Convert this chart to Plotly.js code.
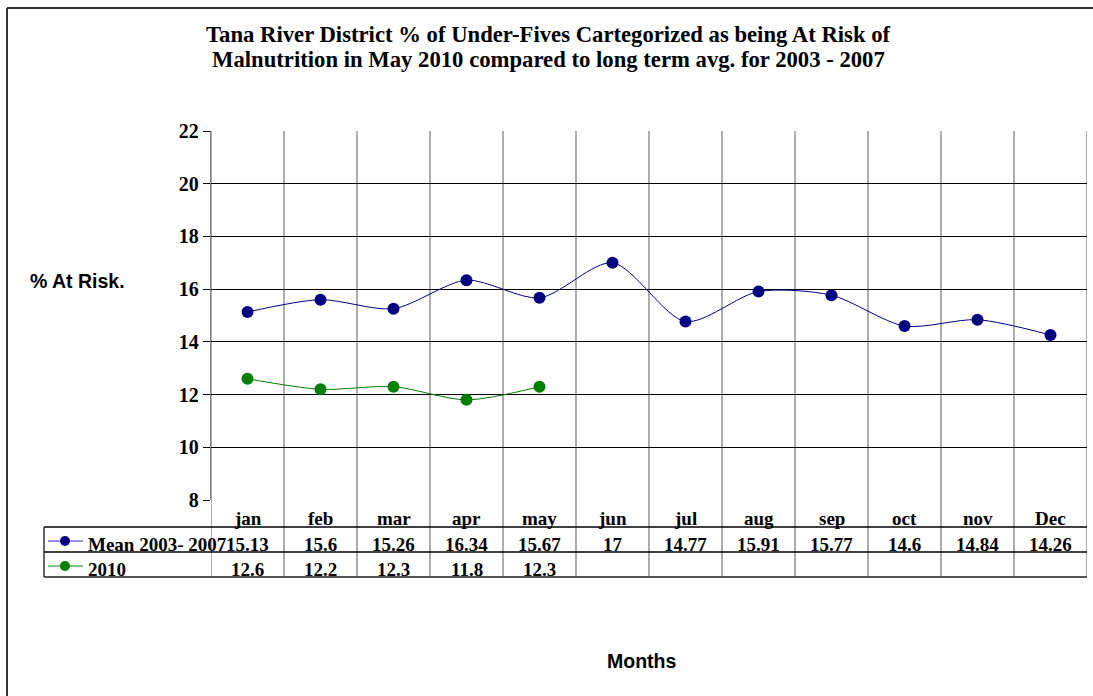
<!DOCTYPE html>
<html>
<head>
<meta charset="utf-8">
<script src="https://cdn.plot.ly/plotly-3.0.1.min.js"></script>
<style>html,body{margin:0;padding:0;background:#fff;}#chart{width:1093px;height:696px;}</style>
</head>
<body>
<div id="chart"></div>
<script>
const months = ['jan','feb','mar','apr','may','jun','jul','aug','sep','oct','nov','Dec'];
const mean0307 = [15.13, 15.6, 15.26, 16.34, 15.67, 17, 14.77, 15.91, 15.77, 14.6, 14.84, 14.26];
const y2010 = [12.6, 12.2, 12.3, 11.8, 12.3];
const seriesNames = ['Mean 2003- 2007', '2010'];
const seriesColors = ['#000080', '#008000'];
const yTicks = [8, 10, 12, 14, 16, 18, 20, 22];
const titleLines = ['Tana River District % of Under-Fives Cartegorized as being At Risk of',
                    'Malnutrition in May 2010 compared to long term avg. for 2003 - 2007'];

const W = 1093, H = 696;
const L = 211, R = 6, T = 131, B = 196;
const pw = W - L - R, ph = H - T - B;
const px2x = p => (p - L) / pw;
const py2y = p => (H - B - p) / ph;

const idx = months.map((m, i) => i);
const serif = 'Liberation Serif, Times New Roman, serif';
const sans = 'Liberation Sans, Arial, sans-serif';
const tfont = {family: serif, size: 19, color: '#000'};

const traces = [
  {x: idx, y: mean0307, name: seriesNames[0], type: 'scatter', mode: 'lines+markers',
   line: {color: seriesColors[0], width: 1, shape: 'spline', smoothing: 0.8},
   marker: {color: seriesColors[0], size: 12}},
  {x: idx.slice(0, y2010.length), y: y2010, name: seriesNames[1], type: 'scatter', mode: 'lines+markers',
   line: {color: seriesColors[1], width: 1, shape: 'spline', smoothing: 0.8},
   marker: {color: seriesColors[1], size: 12}}
];

const rowHeadY = py2y(518), row1Y = py2y(544), row2Y = py2y(569);
const line1 = py2y(527), line2 = py2y(552), line3 = py2y(577);
const tableLeft = px2x(44);

const annotations = [];
months.forEach((m, i) => {
  annotations.push({x: i, xref: 'x', y: rowHeadY, yref: 'paper', text: '<b>' + m + '</b>', showarrow: false,
    font: tfont, xanchor: 'center', yanchor: 'middle'});
  annotations.push({x: i, xref: 'x', y: row1Y, yref: 'paper', text: '<b>' + mean0307[i] + '</b>', showarrow: false,
    font: tfont, xanchor: 'center', yanchor: 'middle'});
});
y2010.forEach((v, i) => {
  annotations.push({x: i, xref: 'x', y: row2Y, yref: 'paper', text: '<b>' + v + '</b>', showarrow: false,
    font: tfont, xanchor: 'center', yanchor: 'middle'});
});
[row1Y, row2Y].forEach((yy, k) => {
  annotations.push({x: px2x(86), xref: 'paper', y: yy, yref: 'paper', text: '<b>' + seriesNames[k] + '</b>', showarrow: false,
    font: tfont, xanchor: 'left', yanchor: 'middle'});
});
titleLines.forEach((t, k) => {
  annotations.push({x: px2x(548), xref: 'paper', y: py2y(k === 0 ? 35 : 60), yref: 'paper', text: '<b>' + t + '</b>',
    showarrow: false, font: {family: serif, size: 22.7, color: '#000'}, xanchor: 'center', yanchor: 'middle'});
});
annotations.push({x: px2x(77), xref: 'paper', y: py2y(281), yref: 'paper', text: '<b>% At Risk.</b>', showarrow: false,
  font: {family: sans, size: 19.5, color: '#000'}, xanchor: 'center', yanchor: 'middle'});
annotations.push({x: px2x(641), xref: 'paper', y: py2y(661), yref: 'paper', text: '<b>Months</b>', showarrow: false,
  font: {family: sans, size: 19.5, color: '#000'}, xanchor: 'center', yanchor: 'middle'});

const shapes = [];
for (let i = 0; i <= months.length; i++) {
  shapes.push({type: 'line', xref: 'x', yref: 'paper', x0: i - 0.5, x1: i - 0.5, y0: line3, y1: 1,
    line: {color: '#808080', width: 1.3}, layer: 'below'});
}
shapes.push({type: 'line', xref: 'paper', yref: 'paper', x0: tableLeft, x1: 1, y0: line1, y1: line1, line: {color: '#000', width: 1.3}});
shapes.push({type: 'line', xref: 'paper', yref: 'paper', x0: tableLeft, x1: 1, y0: line2, y1: line2, line: {color: '#000', width: 1.3}});
shapes.push({type: 'line', xref: 'paper', yref: 'paper', x0: tableLeft, x1: 1, y0: line3, y1: line3, line: {color: '#555', width: 2}});
shapes.push({type: 'line', xref: 'paper', yref: 'paper', x0: tableLeft, x1: tableLeft, y0: line3, y1: line1, line: {color: '#333', width: 1.5}});
[row1Y, row2Y].forEach((yy, k) => {
  const lc = k === 0 ? '#7070c8' : '#60b060';
  const ly = py2y(k === 0 ? 541 : 566);
  shapes.push({type: 'line', xref: 'paper', yref: 'paper', x0: px2x(48), x1: px2x(83), y0: ly, y1: ly,
    line: {color: lc, width: 1.3}});
  shapes.push({type: 'circle', xref: 'paper', yref: 'paper', xsizemode: 'pixel', ysizemode: 'pixel',
    xanchor: px2x(65), yanchor: ly, x0: -5, x1: 5, y0: -5, y1: 5,
    fillcolor: seriesColors[k], line: {color: seriesColors[k], width: 0}});
});
shapes.push({type: 'line', xref: 'paper', yref: 'paper', x0: px2x(7), x1: px2x(7), y0: py2y(700), y1: py2y(8), line: {color: '#333', width: 2}});
shapes.push({type: 'line', xref: 'paper', yref: 'paper', x0: px2x(7), x1: px2x(1100), y0: py2y(8), y1: py2y(8), line: {color: '#333', width: 2}});

const layout = {
  width: W, height: H,
  margin: {l: L, r: R, t: T, b: B, pad: 0},
  paper_bgcolor: '#fff', plot_bgcolor: '#fff',
  showlegend: false,
  xaxis: {range: [-0.5, months.length - 0.5], showgrid: false, zeroline: false, showticklabels: false,
    ticks: '', showline: false, fixedrange: true},
  yaxis: {range: [8, 22], tickvals: yTicks, ticktext: yTicks.map(v => '<b>' + v + '</b>'), showgrid: true, gridcolor: '#000', gridwidth: 1.2,
    zeroline: false, showline: true, linecolor: '#808080', linewidth: 1.3, ticks: 'outside', ticklen: 7,
    tickcolor: '#000', tickfont: {family: serif, size: 20, color: '#000', weight: 'bold'}, fixedrange: true},
  annotations: annotations,
  shapes: shapes
};

Plotly.newPlot('chart', traces, layout, {displayModeBar: false, staticPlot: true});
</script>
</body>
</html>
